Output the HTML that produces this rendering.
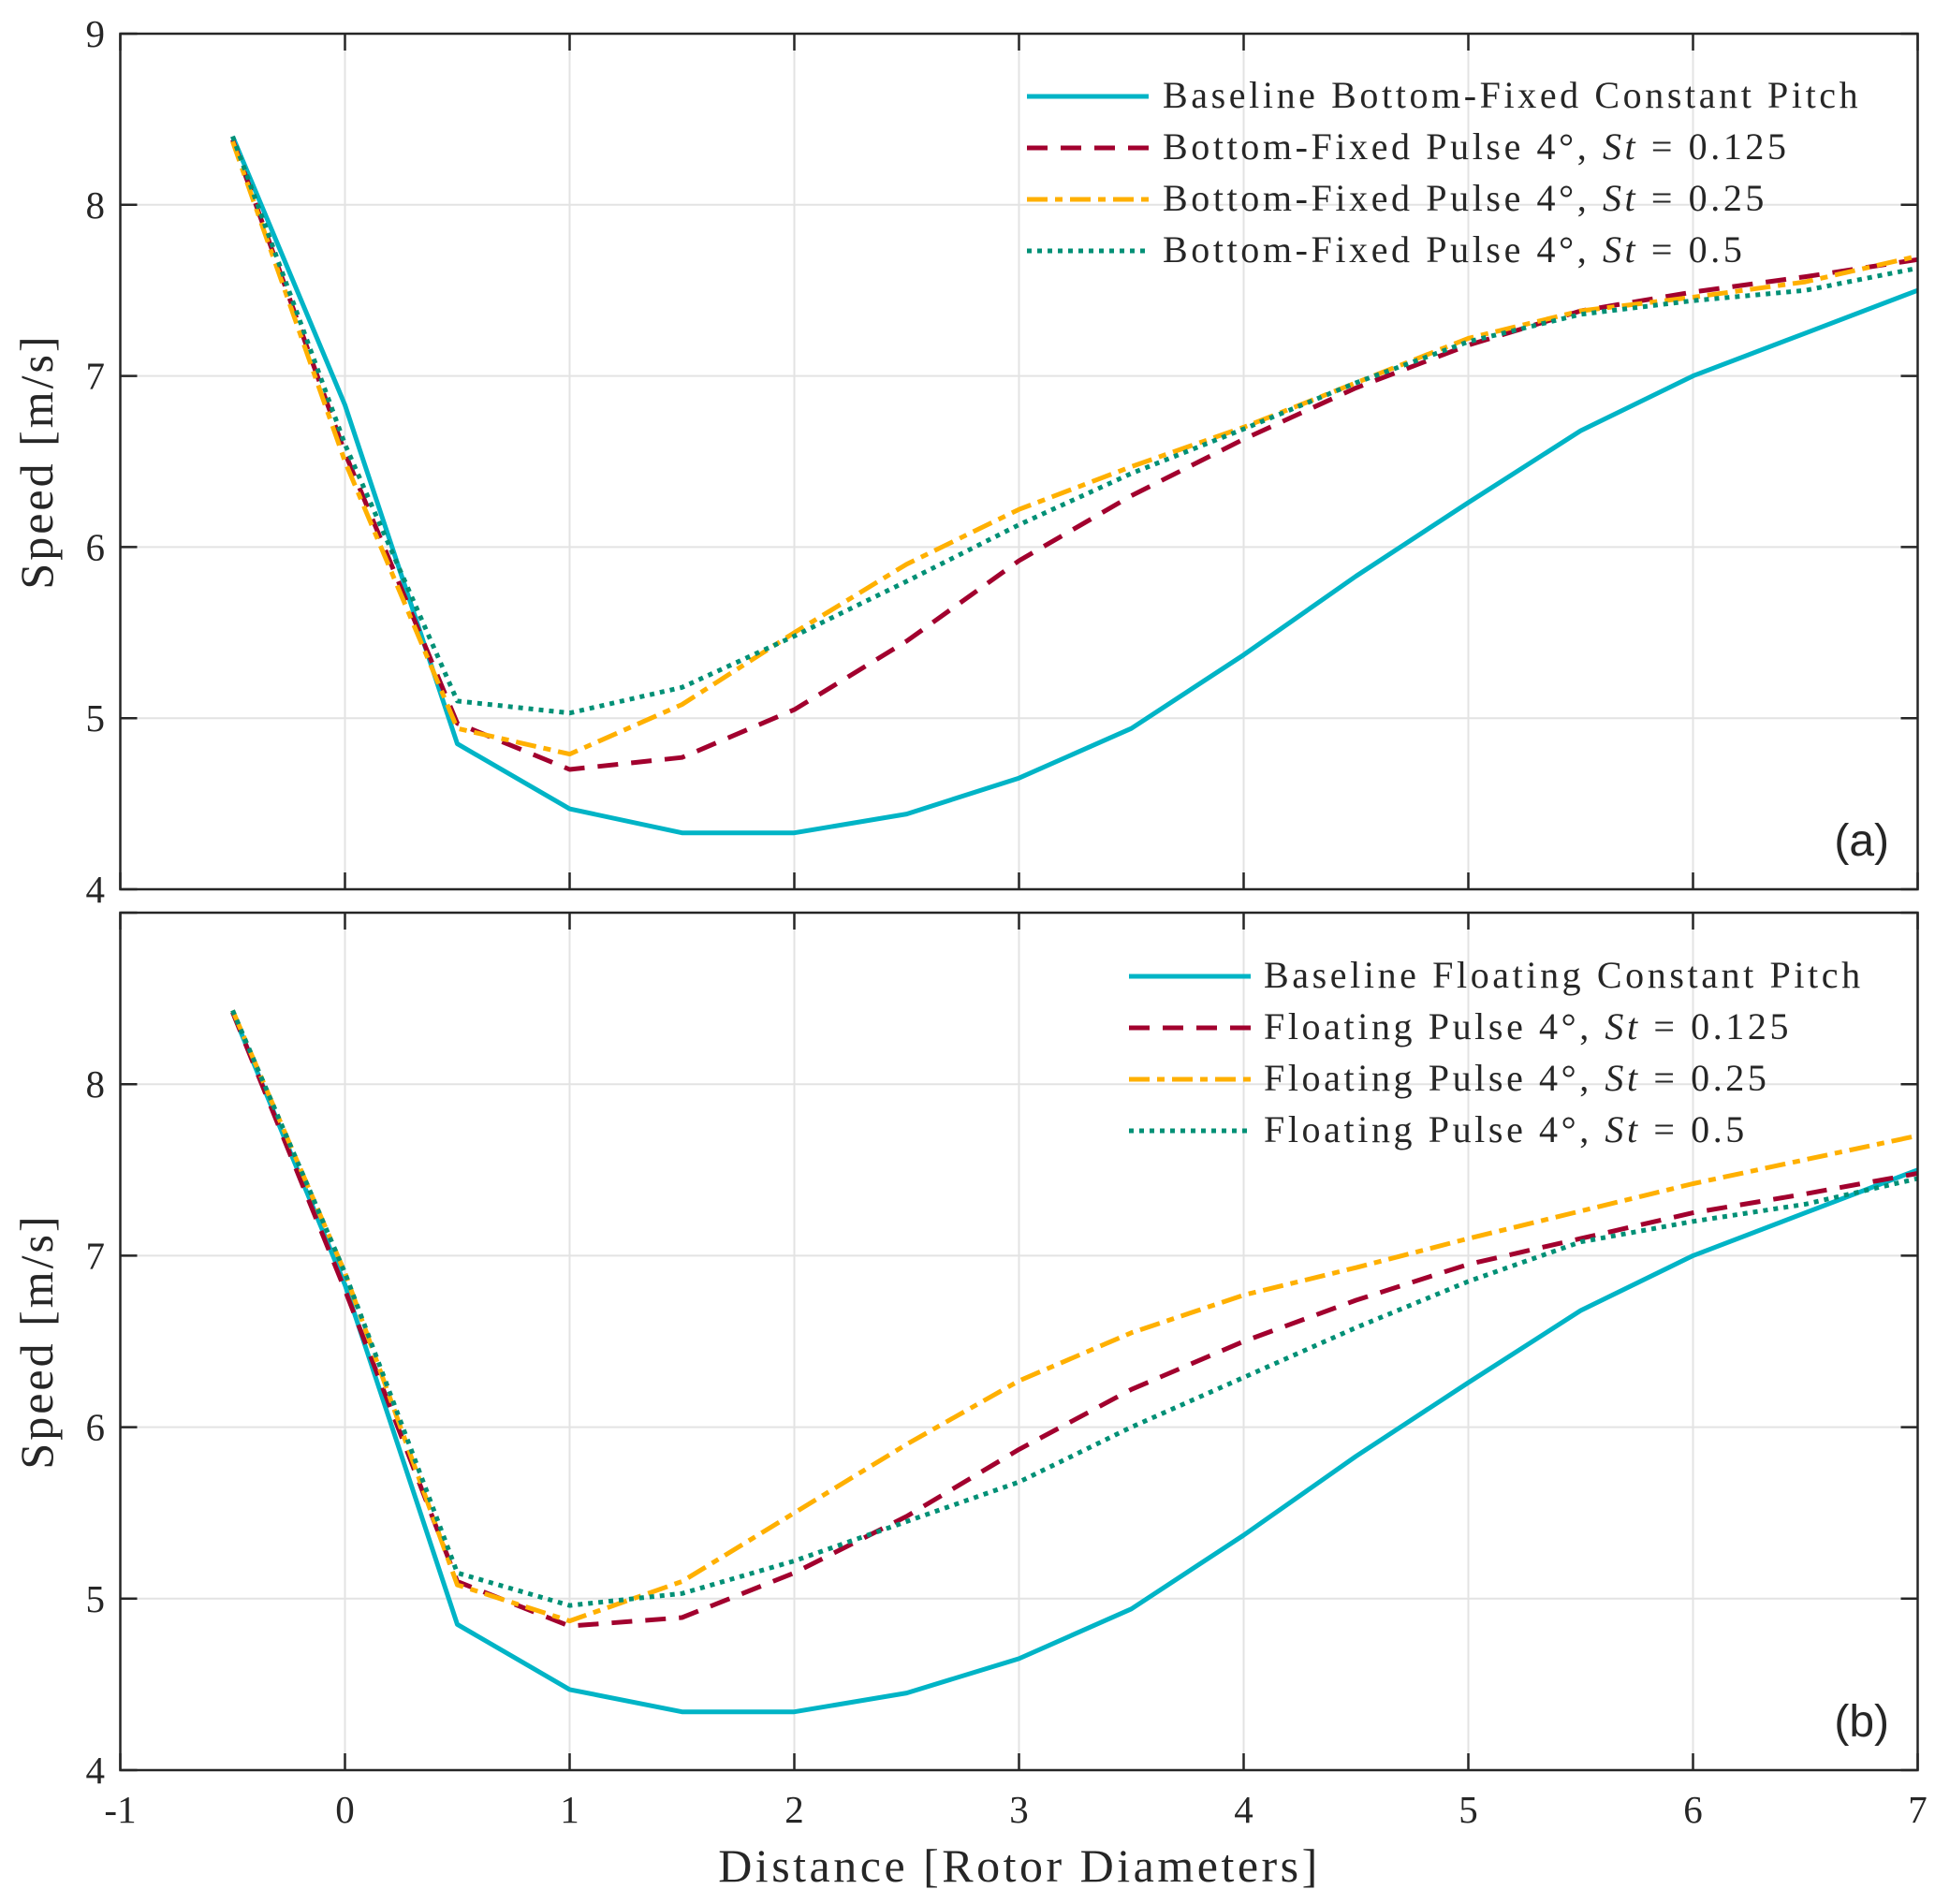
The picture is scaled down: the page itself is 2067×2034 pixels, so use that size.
<!DOCTYPE html>
<html><head><meta charset="utf-8">
<style>
html,body{margin:0;padding:0;background:#fff;}
svg{display:block;}
text{font-family:"Liberation Serif",serif;fill:#262626;}
</style></head>
<body>
<svg id="chart" width="2067" height="2034" viewBox="0 0 2067 2034" xmlns="http://www.w3.org/2000/svg"></svg>
<script>
const distances = [-0.5,0,0.5,1,1.5,2,2.5,3,3.5,4,4.5,5,5.5,6,6.5,7];
const xTicks = [-1,0,1,2,3,4,5,6,7];
const yTicks = [4,5,6,7,8,9];
const topBaseline = [8.4,6.83,4.85,4.47,4.33,4.33,4.44,4.65,4.94,5.37,5.83,6.26,6.68,7.0,7.25,7.5];
const topSt0125 = [8.38,6.55,4.97,4.7,4.77,5.05,5.45,5.92,6.3,6.63,6.93,7.18,7.38,7.49,7.58,7.68];
const topSt025 = [8.37,6.5,4.94,4.79,5.08,5.5,5.9,6.22,6.47,6.7,6.96,7.22,7.38,7.46,7.55,7.7];
const topSt05 = [8.4,6.6,5.1,5.03,5.18,5.48,5.8,6.13,6.43,6.69,6.96,7.2,7.36,7.44,7.5,7.63];
const botBaseline = [8.42,6.83,4.85,4.47,4.34,4.34,4.45,4.65,4.94,5.37,5.83,6.26,6.68,7.0,7.25,7.5];
const botSt0125 = [8.42,6.8,5.1,4.84,4.89,5.15,5.48,5.87,6.22,6.5,6.74,6.95,7.1,7.25,7.36,7.48];
const botSt025 = [8.43,6.9,5.08,4.87,5.1,5.5,5.9,6.27,6.55,6.77,6.93,7.1,7.26,7.42,7.56,7.7];
const botSt05 = [8.43,6.9,5.15,4.96,5.03,5.22,5.45,5.68,6.0,6.29,6.58,6.85,7.08,7.2,7.3,7.45];
const topLabels = ["Baseline Bottom-Fixed Constant Pitch","Bottom-Fixed Pulse 4°, ","Bottom-Fixed Pulse 4°, ","Bottom-Fixed Pulse 4°, "];
const botLabels = ["Baseline Floating Constant Pitch","Floating Pulse 4°, ","Floating Pulse 4°, ","Floating Pulse 4°, "];
const stValues = ["", "0.125", "0.25", "0.5"];

const NS = "http://www.w3.org/2000/svg";
const svg = document.getElementById('chart');
const X0 = 128.5, X1 = 2048.5, XMIN = -1, XMAX = 7;
function xs(v){ return X0 + (v - XMIN) / (XMAX - XMIN) * (X1 - X0); }
function mk(tag, attrs, parent){
  const e = document.createElementNS(NS, tag);
  for (const k in attrs) e.setAttribute(k, attrs[k]);
  (parent || svg).appendChild(e);
  return e;
}
const styles = [
  {stroke:"#00b4c6", dash:"", w:5},
  {stroke:"#a2002e", dash:"22 14", w:5},
  {stroke:"#ffb000", dash:"22 8 8 8", w:5},
  {stroke:"#009076", dash:"5 6", w:5}
];

function panel(name, top, bottom, series, labels, legendLineX, legendTextX, legendY, tag, showXLabels){
  const g = mk('g', {});
  
  
  const ys = v => bottom - (v - 4) / 5 * (bottom - top);
  xTicks.forEach(t => {
    const l = mk('line', {x1:xs(t), x2:xs(t), y1:top, y2:bottom, stroke:"#e3e3e3", "stroke-width":2}, g);
    
    
  });
  yTicks.forEach(t => {
    const l = mk('line', {x1:X0, x2:X1, y1:ys(t), y2:ys(t), stroke:"#e3e3e3", "stroke-width":2}, g);
    
    
  });
  series.forEach((arr, i) => {
    const pts = arr.map((v, j) => xs(distances[j]).toFixed(1) + "," + ys(v).toFixed(1)).join(" ");
    const p = mk('polyline', {points:pts, fill:"none", stroke:styles[i].stroke, "stroke-width":styles[i].w, "stroke-dasharray":styles[i].dash, "stroke-linejoin":"round"}, g);
    
    
  });
  const box = mk('rect', {x:X0, y:top, width:X1 - X0, height:bottom - top, fill:"none", stroke:"#262626", "stroke-width":2.5}, g);
  
  
  xTicks.forEach(t => {
    const a = mk('line', {x1:xs(t), x2:xs(t), y1:bottom, y2:bottom - 18, stroke:"#262626", "stroke-width":2.5}, g);
    
    
    const b = mk('line', {x1:xs(t), x2:xs(t), y1:top, y2:top + 18, stroke:"#262626", "stroke-width":2.5}, g);
    
    
    if (showXLabels) {
      const tx = mk('text', {x:xs(t), y:bottom + 56, "text-anchor":"middle", "font-size":41}, g);
      tx.textContent = t;
      
      
    }
  });
  yTicks.forEach(t => {
    const a = mk('line', {x1:X0, x2:X0 + 18, y1:ys(t), y2:ys(t), stroke:"#262626", "stroke-width":2.5}, g);
    
    
    const b = mk('line', {x1:X1, x2:X1 - 18, y1:ys(t), y2:ys(t), stroke:"#262626", "stroke-width":2.5}, g);
    
    
    if (t === 9 && showXLabels) return;
    const tx = mk('text', {x:112, y:ys(t) + 14, "text-anchor":"end", "font-size":41}, g);
    tx.textContent = t;
    
    
  });
  const yt = mk('text', {x:0, y:0, "text-anchor":"middle", "font-size":50, "letter-spacing":3, transform:`translate(56 ${(top + bottom) / 2}) rotate(-90)`}, g);
  yt.textContent = "Speed [m/s]";
  
  
  labels.forEach((lab, i) => {
    const y = legendY + i * 55;
    const ll = mk('line', {x1:legendLineX, x2:legendLineX + 130, y1:y, y2:y, stroke:styles[i].stroke, "stroke-width":styles[i].w, "stroke-dasharray":styles[i].dash}, g);
    
    
    const tx = mk('text', {x:legendTextX, y:y + 12, "font-size":40, "letter-spacing":3.6}, g);
    
    
    tx.appendChild(document.createTextNode(lab));
    if (stValues[i]) {
      const it = mk('tspan', {"font-style":"italic"}, tx);
      it.textContent = "St";
      tx.appendChild(document.createTextNode(" = " + stValues[i]));
    }
  });
  const tg = mk('text', {x:2018, y:bottom - 36, "text-anchor":"end", "font-size":48, style:"font-family:'Liberation Sans',sans-serif"}, g);
  tg.textContent = tag;
  
  
}

panel('panel-a', 36, 950, [topBaseline, topSt0125, topSt025, topSt05], topLabels, 1097, 1242, 103, "(a)", false);
panel('panel-b', 975, 1891, [botBaseline, botSt0125, botSt025, botSt05], botLabels, 1206, 1350, 1043, "(b)", true);

const xt = mk('text', {x:1089, y:2010, "text-anchor":"middle", "font-size":50, "letter-spacing":3.5});
xt.textContent = "Distance [Rotor Diameters]";


</script>
</body></html>
